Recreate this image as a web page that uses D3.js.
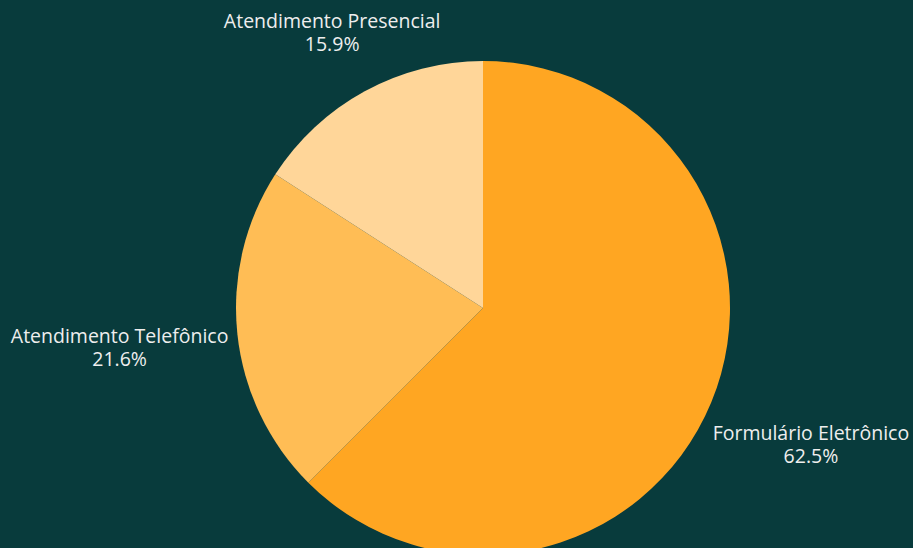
<!DOCTYPE html>
<html>
<head>
<meta charset="utf-8">
<script src="https://cdn.jsdelivr.net/npm/d3@7/dist/d3.min.js"></script>
<style>
  html, body { margin: 0; padding: 0; background: #083b3c; }
  svg { display: block; }
</style>
</head>
<body>
<svg id="chart" width="913" height="548"></svg>
<script>
const categories = ["Formulário Eletrônico", "Atendimento Telefônico", "Atendimento Presencial"];
const values = [62.5, 21.6, 15.9];
const colors = ["#ffa622", "#ffbd55", "#ffd699"];

const W = 913, H = 548;
const cx = 483, cy = 308, R = 247;
const gap = 8;

const svg = d3.select("#chart");
svg.append("rect").attr("width", W).attr("height", H).attr("fill", "#083b3c");

const data = categories.map((c, i) => ({ name: c, value: values[i], color: colors[i] }));
const pie = d3.pie().value(d => d.value).sort(null);
const arcs = pie(data);
const arc = d3.arc().innerRadius(0).outerRadius(R);

const g = svg.append("g").attr("transform", `translate(${cx},${cy})`);
g.selectAll("path").data(arcs).enter().append("path")
  .attr("d", arc)
  .attr("fill", d => d.data.color);

const total = d3.sum(values);
const fmt = v => (v / total * 100).toFixed(1) + "%";

const labels = g.selectAll("text.lbl").data(arcs).enter().append("text")
  .attr("class", "lbl")
  .attr("text-anchor", "middle")
  .attr("font-family", "'Open Sans', 'Noto Sans', sans-serif")
  .attr("font-size", 19.5)
  .attr("fill", "#eeeeee");
labels.append("tspan").attr("x", 0).attr("dy", 0).text(d => d.data.name);
labels.append("tspan").attr("x", 0).attr("dy", 23).text(d => fmt(d.data.value));

labels.each(function(d) {
  const bb = this.getBBox();
  const mid = (d.startAngle + d.endAngle) / 2;
  const ux = Math.sin(mid), uy = -Math.cos(mid);
  const bx0 = bb.x, by0 = bb.y, bw = bb.width, bh = bb.height;
  const ccx = bx0 + bw / 2, ccy = by0 + bh / 2;
  function nearestDist(t) {
    const ox = t * ux - ccx, oy = t * uy - ccy;
    const x0 = ox + bx0, x1 = ox + bx0 + bw, y0 = oy + by0, y1 = oy + by0 + bh;
    const px = Math.max(x0, Math.min(0, x1));
    const py = Math.max(y0, Math.min(0, y1));
    return Math.hypot(px, py);
  }
  let lo = 0, hi = 1000;
  for (let k = 0; k < 60; k++) {
    const m = (lo + hi) / 2;
    if (nearestDist(m) < R + gap) lo = m; else hi = m;
  }
  const t = hi;
  d3.select(this).attr("transform", `translate(${t * ux - ccx},${t * uy - ccy})`);
});
</script>
</body>
</html>
